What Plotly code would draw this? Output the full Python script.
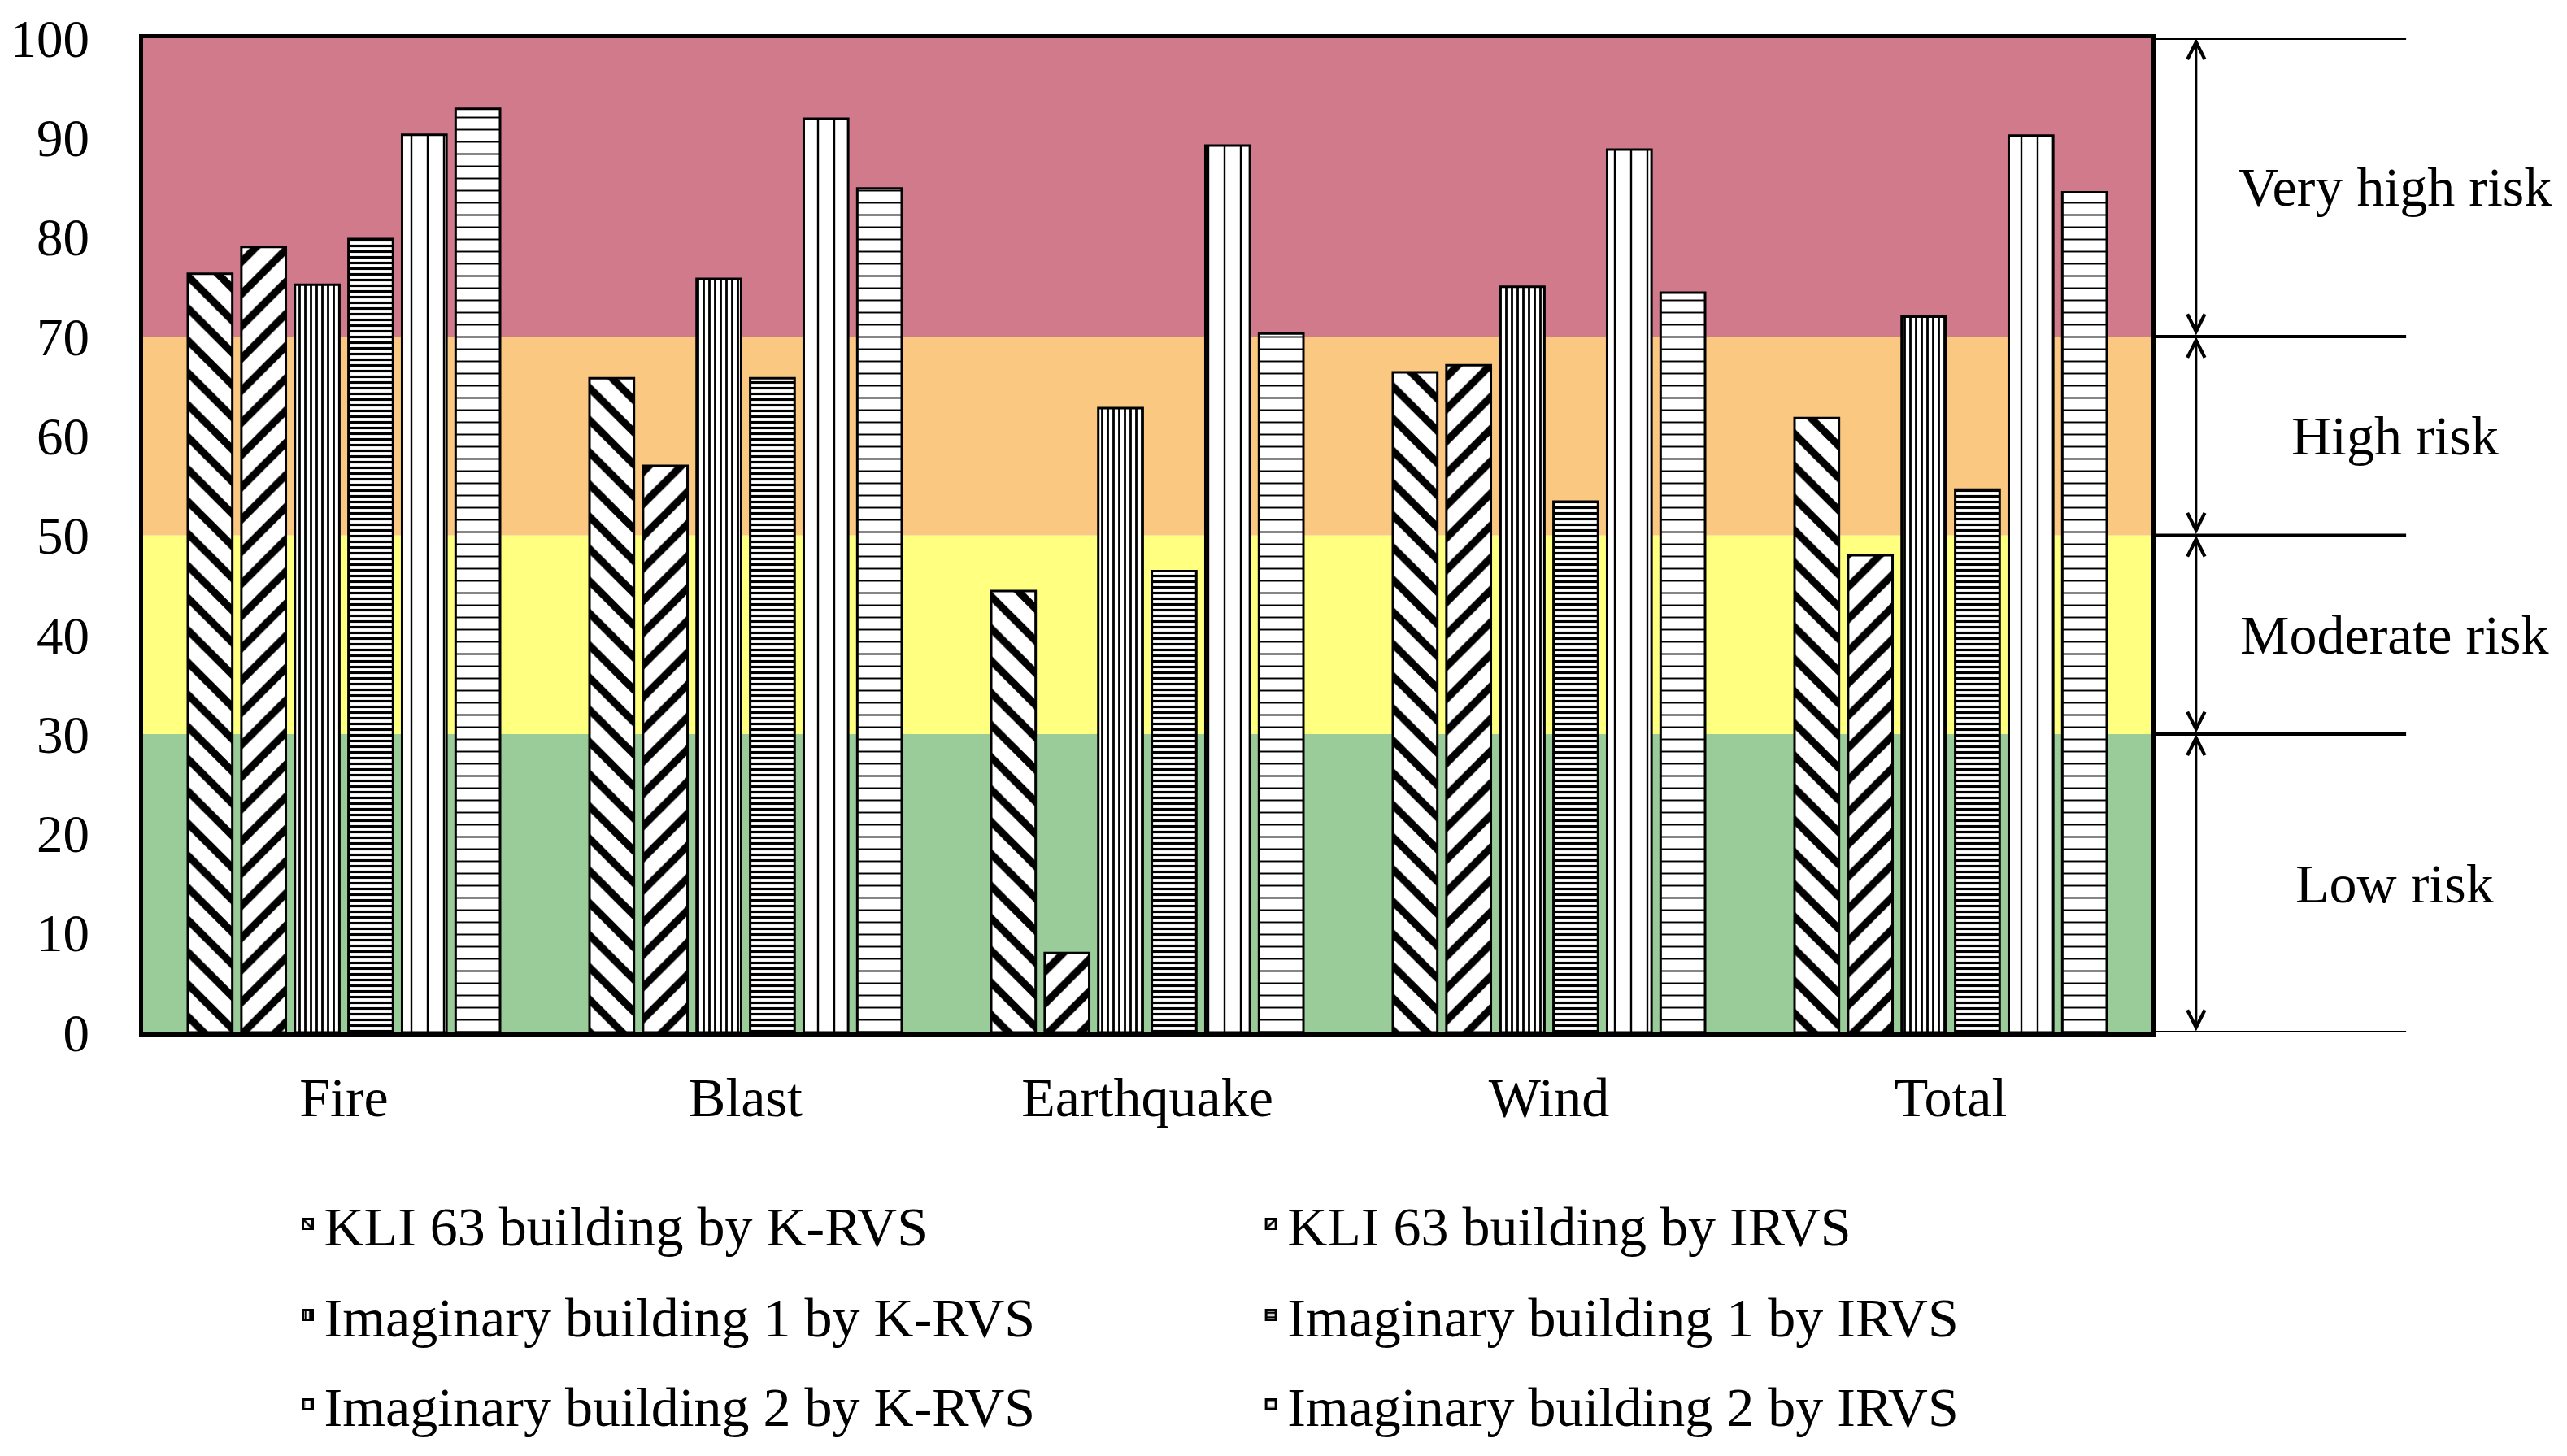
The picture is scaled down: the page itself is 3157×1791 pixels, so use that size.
import plotly.graph_objects as go

categories = ["Fire", "Blast", "Earthquake", "Wind", "Total"]
series_names = [
    "KLI 63 building by K-RVS",
    "KLI 63 building by IRVS",
    "Imaginary building 1 by K-RVS",
    "Imaginary building 1 by IRVS",
    "Imaginary building 2 by K-RVS",
    "Imaginary building 2 by IRVS",
]
kli_krvs = [76.3, 65.8, 44.4, 66.4, 61.8]
kli_irvs = [79.0, 57.0, 8.0, 67.1, 48.0]
img1_krvs = [75.2, 75.8, 62.8, 75.0, 72.0]
img1_irvs = [79.8, 65.8, 46.4, 53.4, 54.6]
img2_krvs = [90.3, 91.9, 89.2, 88.8, 90.2]
img2_irvs = [92.9, 84.9, 70.3, 74.4, 84.5]
series_values = [kli_krvs, kli_irvs, img1_krvs, img1_irvs, img2_krvs, img2_irvs]

y_ticks = [0, 10, 20, 30, 40, 50, 60, 70, 80, 90, 100]
risk_thresholds = [0, 30, 50, 70, 100]
risk_labels = ["Low risk", "Moderate risk", "High risk", "Very high risk"]
risk_colors = ["#99CC99", "#FFFF80", "#FAC880", "#D17A8C"]

patterns = [
    dict(shape="\\", size=28, solidity=0.33),
    dict(shape="/", size=28, solidity=0.33),
    dict(shape="|", size=7, solidity=0.4),
    dict(shape="-", size=7, solidity=0.45),
    dict(shape="|", size=20, solidity=0.12),
    dict(shape="-", size=15, solidity=0.13),
]

FONT = "Liberation Serif, Times New Roman, serif"
FS = 68
FS_Y = 65
W, H = 3157, 1791
L, R, T, B = 169, 511, 38, 519
pw = W - L - R
ph = H - T - B

fig = go.Figure()
legend_names = ["legend", "legend2", "legend3", "legend4", "legend5", "legend6"]
for i, (name, vals) in enumerate(zip(series_names, series_values)):
    p = patterns[i]
    fig.add_trace(go.Bar(
        x=categories, y=vals, name=name,
        legend=legend_names[i],
        marker=dict(
            color="white",
            line=dict(color="black", width=3),
            pattern=dict(shape=p["shape"], size=p["size"], solidity=p["solidity"],
                         fgcolor="black", bgcolor="white", fillmode="replace"),
        ),
    ))

shapes = []
for k in range(len(risk_labels)):
    shapes.append(dict(type="rect", xref="paper", yref="y", x0=0, x1=1,
                       y0=risk_thresholds[k], y1=risk_thresholds[k + 1],
                       fillcolor=risk_colors[k], line=dict(width=0), layer="below"))
line_end = (2960 - L) / pw
for t in risk_thresholds:
    shapes.append(dict(type="line", xref="paper", yref="y", x0=1, x1=line_end,
                       y0=t, y1=t, line=dict(color="black", width=4)))

annotations = []
arrow_x = (2701 - L) / pw
label_x = (2946 - L) / pw
for k in range(len(risk_labels)):
    lo, hi = risk_thresholds[k], risk_thresholds[k + 1]
    annotations.append(dict(xref="paper", yref="y", x=arrow_x, y=hi,
                            ax=0, ay=lo, axref="pixel", ayref="y",
                            text="", showarrow=True, arrowside="end+start",
                            arrowhead=5, arrowsize=1.4, arrowwidth=3,
                            arrowcolor="black"))
    annotations.append(dict(xref="paper", yref="y", x=label_x, y=(lo + hi) / 2,
                            text=risk_labels[k], showarrow=False,
                            xanchor="center", yanchor="middle",
                            font=dict(family=FONT, size=FS, color="black")))

layout_legends = {}
col_px = [352, 1540]
row_px = [1510, 1623, 1734]
for i, ln in enumerate(legend_names):
    r, c = divmod(i, 2)
    layout_legends[ln] = dict(
        x=(col_px[c] - L) / pw, y=(H - B - row_px[r]) / ph,
        xanchor="left", yanchor="middle",
        font=dict(family=FONT, size=FS, color="black"),
        bgcolor="rgba(0,0,0,0)", borderwidth=0,
    )

fig.update_layout(
    width=W, height=H,
    margin=dict(l=L, r=R, t=T, b=B, pad=0),
    paper_bgcolor="white", plot_bgcolor="white",
    barmode="group", bargap=0.2, bargroupgap=0.17,
    font=dict(family=FONT, size=FS, color="black"),
    showlegend=True,
    shapes=shapes, annotations=annotations,
    xaxis=dict(range=[-0.5, 4.5], showline=True, mirror=True, linecolor="black",
               linewidth=5, showgrid=False, ticks="", ticklabelstandoff=16,
               tickfont=dict(family=FONT, size=FS, color="black"), zeroline=False),
    yaxis=dict(range=[0, 100], tickvals=y_ticks, showline=True, mirror=True,
               linecolor="black", linewidth=5, showgrid=False, ticks="",
               ticklabelstandoff=48, zeroline=False,
               tickfont=dict(family=FONT, size=FS_Y, color="black")),
    **layout_legends,
)

fig.write_html("out.html", config={"displayModeBar": False},
               post_script="document.body.style.margin='0px';")
